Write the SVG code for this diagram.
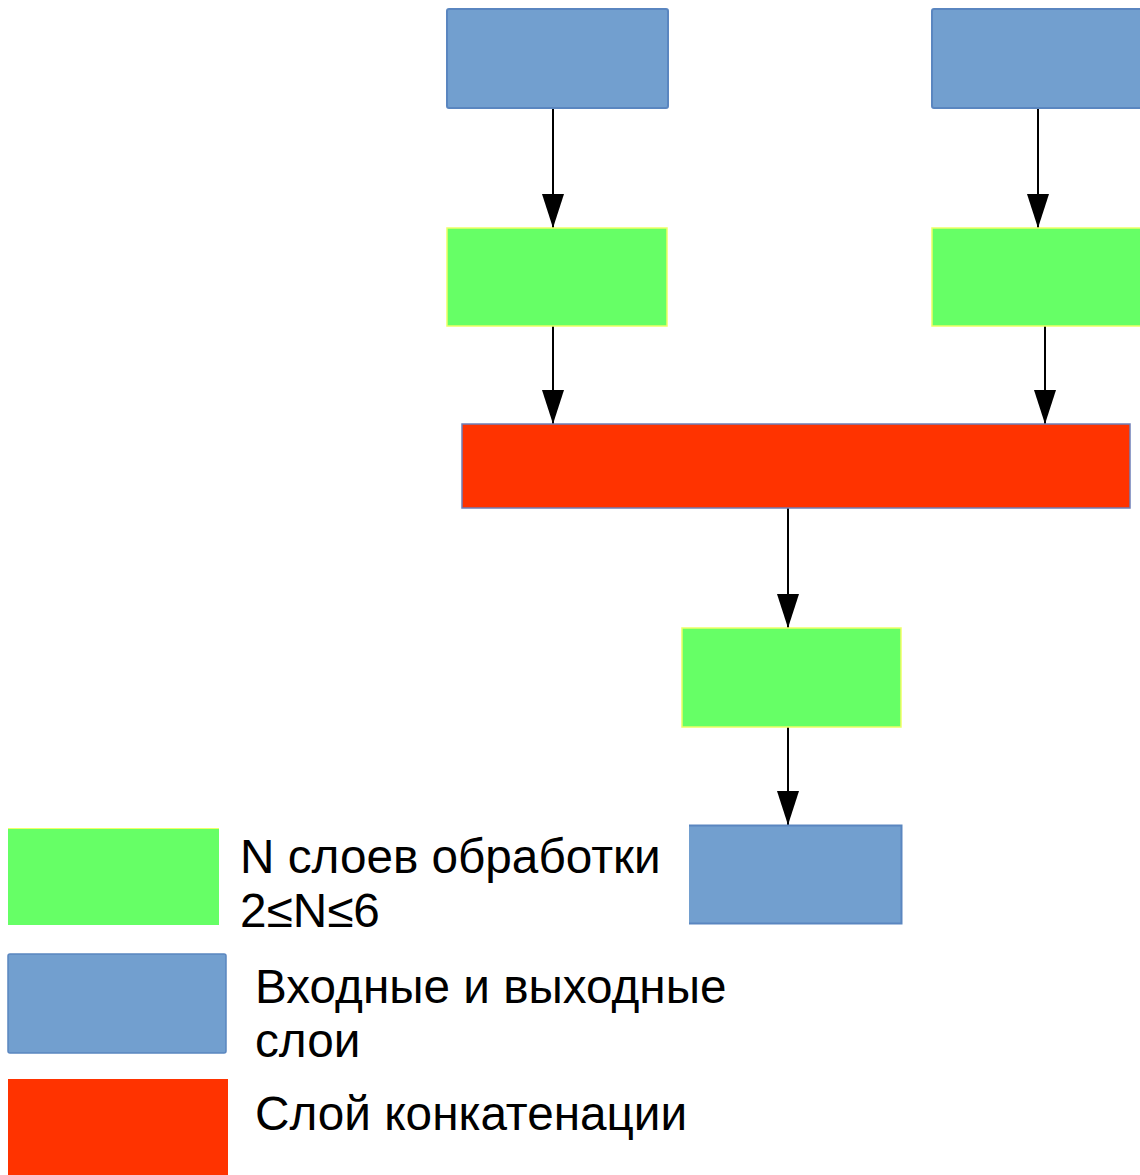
<svg xmlns="http://www.w3.org/2000/svg" width="1140" height="1175" viewBox="0 0 1140 1175">
<defs>
<style>
.blue{fill:#729fcf;stroke:#5a86c0;stroke-width:2}
.green{fill:#66ff66;stroke:#eeff66;stroke-width:1.5}
.red{fill:#ff3300;stroke:#6f7fb8;stroke-width:1.5}
.conn{stroke:#000;stroke-width:2;fill:none;marker-end:url(#ah)}
.t{font-family:"Liberation Sans",Arial,sans-serif;font-size:47.7px;fill:#000}
</style>
<marker id="ah" markerUnits="userSpaceOnUse" markerWidth="34" markerHeight="22" refX="34" refY="11" orient="auto" viewBox="0 0 34 22"><path d="M0,0 L34,11 L0,22 Z" fill="#000"/></marker>
</defs>
<rect width="1140" height="1175" fill="#fff"/>
<g id="connectors">
<path class="conn" d="M553,108 V228"/>
<path class="conn" d="M1038,108 V228"/>
<path class="conn" d="M553,326 V424"/>
<path class="conn" d="M1045,326 V424"/>
<path class="conn" d="M788,508 V628"/>
<path class="conn" d="M788,727 V825"/>
</g>
<g id="in1"><rect class="blue" x="447" y="9" width="221" height="99" rx="2"/></g>
<g id="in2"><rect class="blue" x="932" y="9" width="212" height="99" rx="2"/></g>
<g id="proc1"><rect class="green" x="447" y="228" width="220" height="98"/></g>
<g id="proc2"><rect class="green" x="932" y="228" width="212" height="98"/></g>
<g id="concat"><rect class="red" x="462" y="424" width="668" height="84"/></g>
<g id="proc3"><rect class="green" x="682" y="628" width="219" height="99"/></g>
<g id="out"><rect x="689" y="825" width="213" height="99" fill="#729fcf"/><path d="M689,825.5 H901.5 V923.5 H689" fill="none" stroke="#5a86c0" stroke-width="2"/></g>
<g id="legend-green"><rect x="8" y="828" width="211" height="97" fill="#66ff66"/><line x1="8" y1="828.5" x2="219" y2="828.5" stroke="#eeff66"/>
<text class="t" x="240" y="873">N слоев обработки</text><text class="t" x="240" y="927">2≤N≤6</text></g>
<g id="legend-blue"><rect class="blue" x="8" y="954" width="218" height="99" rx="2" style="stroke-width:1.5"/>
<text class="t" x="255" y="1003">Входные и выходные</text><text class="t" x="255" y="1057">слои</text></g>
<g id="legend-red"><rect x="8" y="1079" width="220" height="96" fill="#ff3300"/>
<text class="t" x="255" y="1130">Слой конкатенации</text></g>
</svg>
